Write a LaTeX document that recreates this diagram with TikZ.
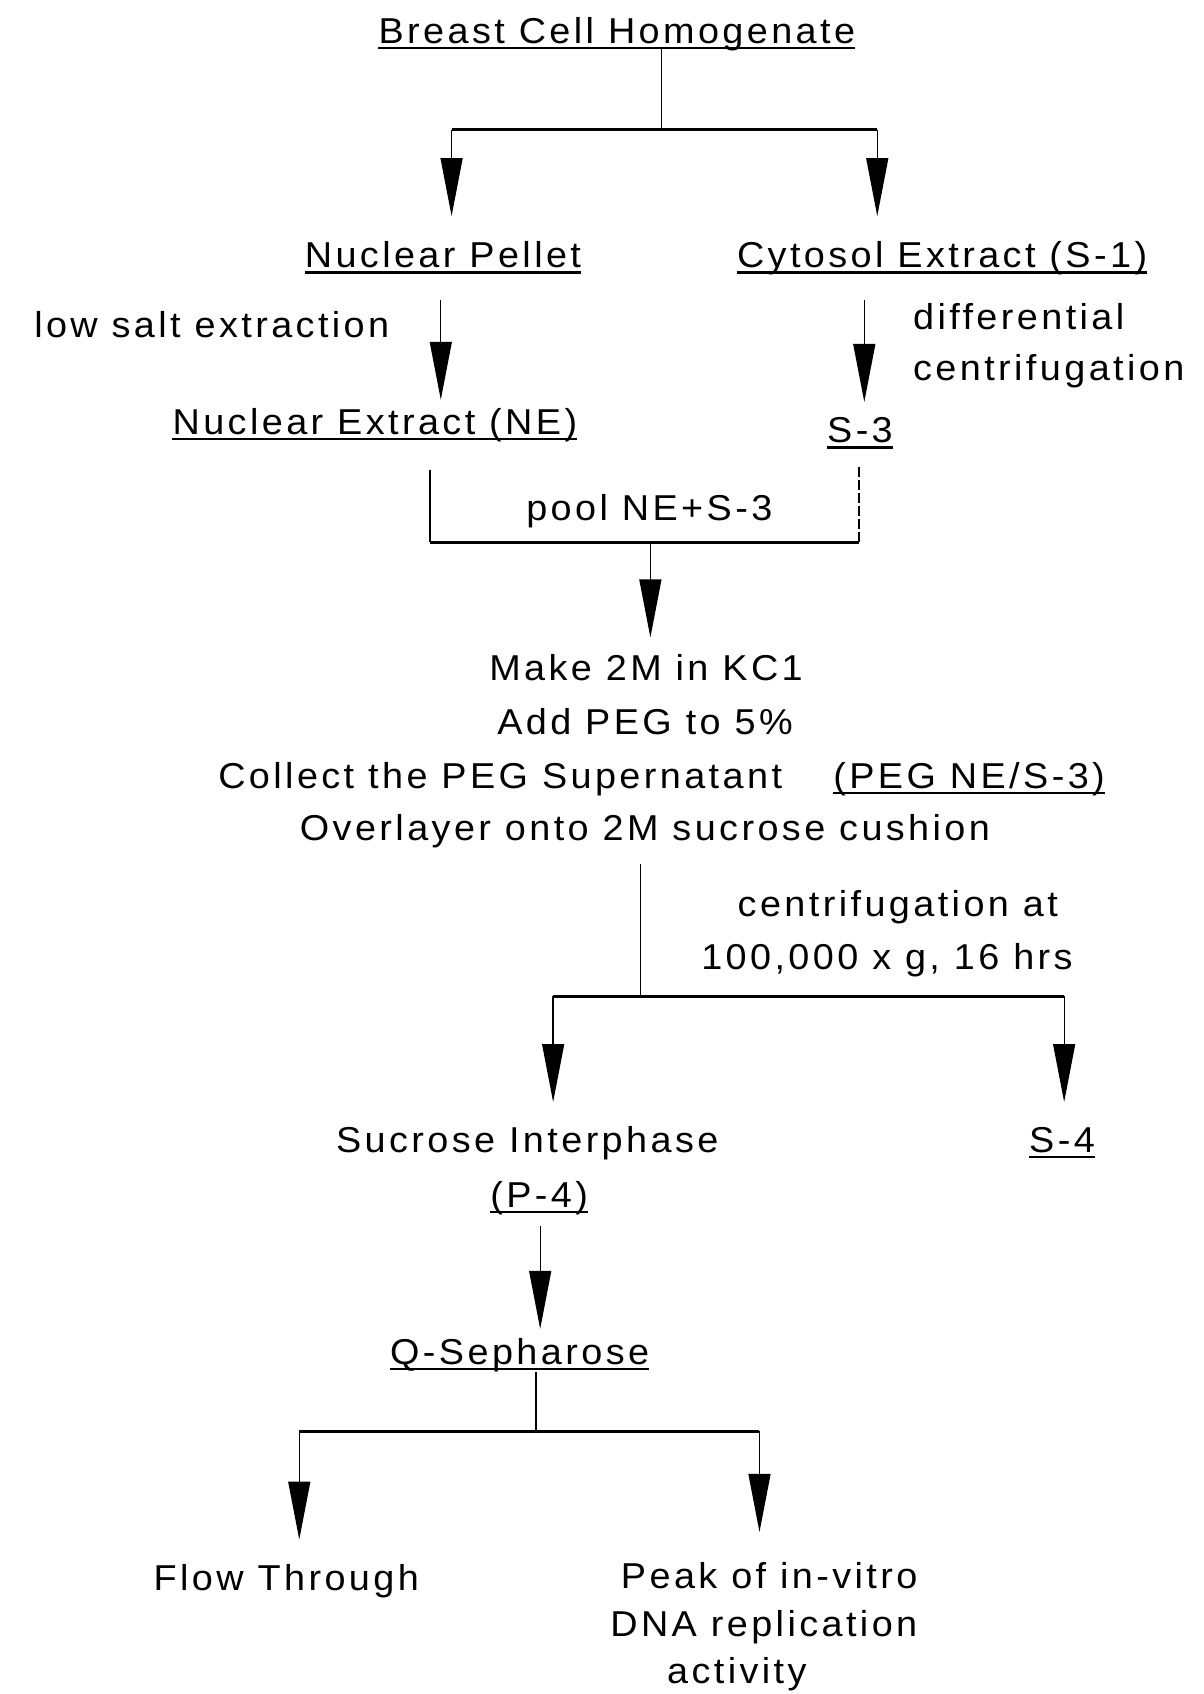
\documentclass[tikz,border=0pt]{standalone}
\usepackage{fontspec}
\setmainfont{Liberation Sans}[FakeStretch=1.05, LetterSpace=9.5]
\usetikzlibrary{arrows.meta}
\begin{document}
\begin{tikzpicture}[x=1.0808pt,y=-1.0808pt,
  txt/.style={inner sep=0pt, anchor=base, font=\fontsize{36}{40}\selectfont},
  txtl/.style={txt, anchor=base west},
  ln/.style={line width=1.3pt},
  bar/.style={line width=2.8pt},
  arr/.style={line width=1.3pt, -{Triangle[length=58pt,width=22pt]}},
  ul/.style={line width=2.2pt}]
\useasboundingbox (0,0) rectangle (1114,1568);
\fill[white] (0,0) rectangle (1114,1568);

% texts
\node[txt] (bch) at (571,40) {Breast Cell Homogenate};
\node[txt] (np) at (410,248) {Nuclear Pellet};
\node[txt] (cy) at (872,248) {Cytosol Extract (S-1)};
\node[txt] (lse) at (196,312) {low salt extraction};
\node[txtl] (dif) at (845,305) {differential};
\node[txtl] (cen) at (845,352) {centrifugation};
\node[txt] (ne) at (347,402) {Nuclear Extract (NE)};
\node[txt] (s3) at (796,410) {S-3};
\node[txt] (pool) at (601,482) {pool NE+S-3};
\node[txt] (mk) at (598,630) {Make 2M in KC1};
\node[txt] (add) at (597,680) {Add PEG to 5\%};
\node[txt] (col) at (463,730) {Collect the PEG Supernatant};
\node[txt] (peg) at (897,730) {(PEG NE/S-3)};
\node[txt] (ov) at (597,778) {Overlayer onto 2M sucrose cushion};
\node[txt] (cat) at (831,848) {centrifugation at};
\node[txt] (hk) at (821,897) {100,000 x g, 16 hrs};
\node[txt] (si) at (488,1067) {Sucrose Interphase};
\node[txt] (s4) at (983,1067) {S-4};
\node[txt] (p4) at (499,1118) {(P-4)};
\node[txt] (qs) at (481,1263) {Q-Sepharose};
\node[txt] (ft) at (265,1472) {Flow Through};
\node[txt] (pk1) at (712,1470) {Peak of in-vitro};
\node[txt] (pk2) at (707,1515) {DNA replication};
\node[txt] (pk3) at (682,1558) {activity};

% underlines
\foreach \n in {bch,np,cy,ne,s3,peg,s4,p4,qs}
  \draw[ul] ([yshift=-4.5pt]\n.base west) -- ([yshift=-4.5pt]\n.base east);

% coordinates
\coordinate (a0) at (612,44);
\coordinate (a1) at (612,120);
\coordinate (al) at (418,120);
\coordinate (ar) at (812,120);
\coordinate (alE) at (418,200);
\coordinate (arE) at (812,200);
\coordinate (b0) at (408,278);
\coordinate (b1) at (408,370);
\coordinate (c0) at (800,278);
\coordinate (c1) at (800,372);
\coordinate (d0) at (398,435);
\coordinate (d1) at (398,502);
\coordinate (e0) at (795,432);
\coordinate (e1) at (795,502);
\coordinate (f0) at (602,502);
\coordinate (f1) at (602,590);
\coordinate (g0) at (593,800);
\coordinate (g1) at (593,922);
\coordinate (gl) at (512,922);
\coordinate (gr) at (985,922);
\coordinate (glE) at (512,1020);
\coordinate (grE) at (985,1020);
\coordinate (h0) at (500,1135);
\coordinate (h1) at (500,1230);
\coordinate (i0) at (496,1270);
\coordinate (i1) at (496,1325);
\coordinate (il) at (277,1325);
\coordinate (ir) at (703,1325);
\coordinate (ilE) at (277,1425);
\coordinate (irE) at (703,1418);

% connectors
\draw[ln] (a0) -- (a1);
\draw[bar] (al) -- (ar);
\draw[arr] (al) -- (alE);
\draw[arr] (ar) -- (arE);
\draw[arr] (b0) -- (b1);
\draw[arr] (c0) -- (c1);
\draw[ln] (d0) -- (d1);
\draw[ln, dash pattern=on 10pt off 3pt] (e0) -- (e1);
\draw[bar] (d1) -- (e1);
\draw[arr] (f0) -- (f1);
\draw[ln] (g0) -- (g1);
\draw[bar] (gl) -- (gr);
\draw[arr] (gl) -- (glE);
\draw[arr] (gr) -- (grE);
\draw[arr] (h0) -- (h1);
\draw[ln] (i0) -- (i1);
\draw[bar] (il) -- (ir);
\draw[arr] (il) -- (ilE);
\draw[arr] (ir) -- (irE);
\end{tikzpicture}
\end{document}
